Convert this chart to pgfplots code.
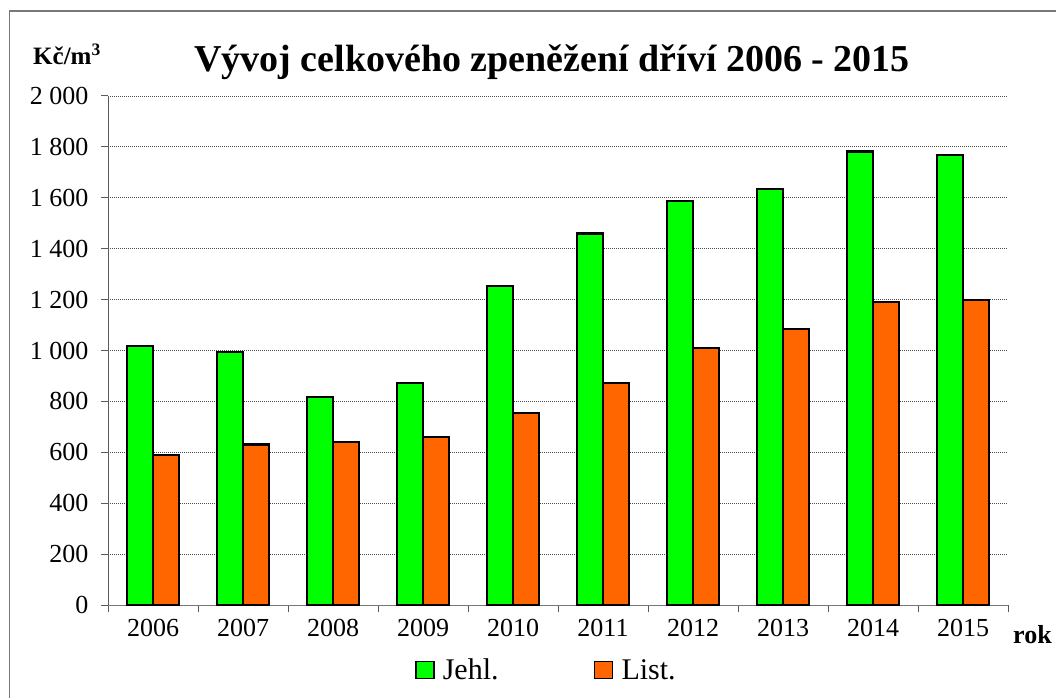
\documentclass[border=0pt]{standalone}
\usepackage{pgfplots}
\pgfplotsset{compat=1.18}
\usepackage{fontspec}
\setmainfont{Liberation Serif}
\definecolor{jehl}{RGB}{0,255,0}
\definecolor{listc}{RGB}{255,102,0}
\definecolor{gridc}{RGB}{120,120,120}
\definecolor{axc}{RGB}{90,90,90}
\begin{document}
\begin{tikzpicture}
\path[use as bounding box] (0,0) rectangle (1056pt,697pt);
\draw[gridc, line width=1.3pt] (9.5pt,-5pt) -- (9.5pt,686pt) -- (1070pt,686pt);
\begin{axis}[
  at={(108pt,92pt)}, anchor=south west,
  scale only axis, width=900pt, height=509pt,
  xmin=-0.5, xmax=9.5, ymin=0, ymax=2000,
  axis lines=left,
  axis line style={-},
  x axis line style={draw=gridc, line width=1pt},
  y axis line style={draw=axc, line width=1pt},
  ybar,
  xtick={0,...,9},
  xticklabels={2006,2007,2008,2009,2010,2011,2012,2013,2014,2015},
  major x tick style={draw=none},
  minor xtick={-0.5,0.5,...,9.5},
  minor tick length=7pt,
  major tick length=7pt,
  tick align=outside,
  tick style={draw=axc, line width=1pt},
  ytick={0,200,...,2000},
  yticklabels={0,200,400,600,800,1 000,1 200,1 400,1 600,1 800,2 000},
  ymajorgrids,
  grid style={draw=black!70, dash pattern=on 1pt off 1pt, line width=0.8pt},
  tick label style={font=\fontsize{26}{30}\selectfont},
  yticklabel style={xshift=-9pt},
  xticklabel style={yshift=-4pt},
  legend columns=2,
  legend style={at={(0.487,-0.128)}, anchor=center, draw=none, fill=none,
    font=\fontsize{30}{34}\selectfont,
    /tikz/every even column/.append style={column sep=93pt}},
  legend image code/.code={\draw[#1, line width=1.6pt] (0pt,-8.5pt) rectangle (18pt,8.5pt); \path (24pt,0pt);},
]
\addplot[fill=jehl, draw=black, line width=2.2pt, bar width=0.29, bar shift=-0.145]
  coordinates {(0,1017) (1,994) (2,817) (3,871) (4,1253) (5,1460) (6,1588) (7,1634) (8,1782) (9,1768)};
\addplot[fill=listc, draw=black, line width=2.2pt, bar width=0.29, bar shift=0.145]
  coordinates {(0,589) (1,631) (2,639) (3,660) (4,754) (5,872) (6,1010) (7,1085) (8,1191) (9,1199)};
\legend{Jehl.,List.}
\end{axis}
\node[anchor=base, font=\bfseries\fontsize{38}{44}\selectfont] at (552pt,625pt) {Vývoj celkového zpeněžení dříví 2006 - 2015};
\node[anchor=base west, inner sep=0pt, font=\bfseries\fontsize{25}{29}\selectfont] at (33pt,632pt) {Kč/m\textsuperscript{3}};
\node[anchor=base west, inner sep=0pt, font=\bfseries\fontsize{26}{30}\selectfont] at (1013pt,54pt) {rok};
\end{tikzpicture}
\end{document}
